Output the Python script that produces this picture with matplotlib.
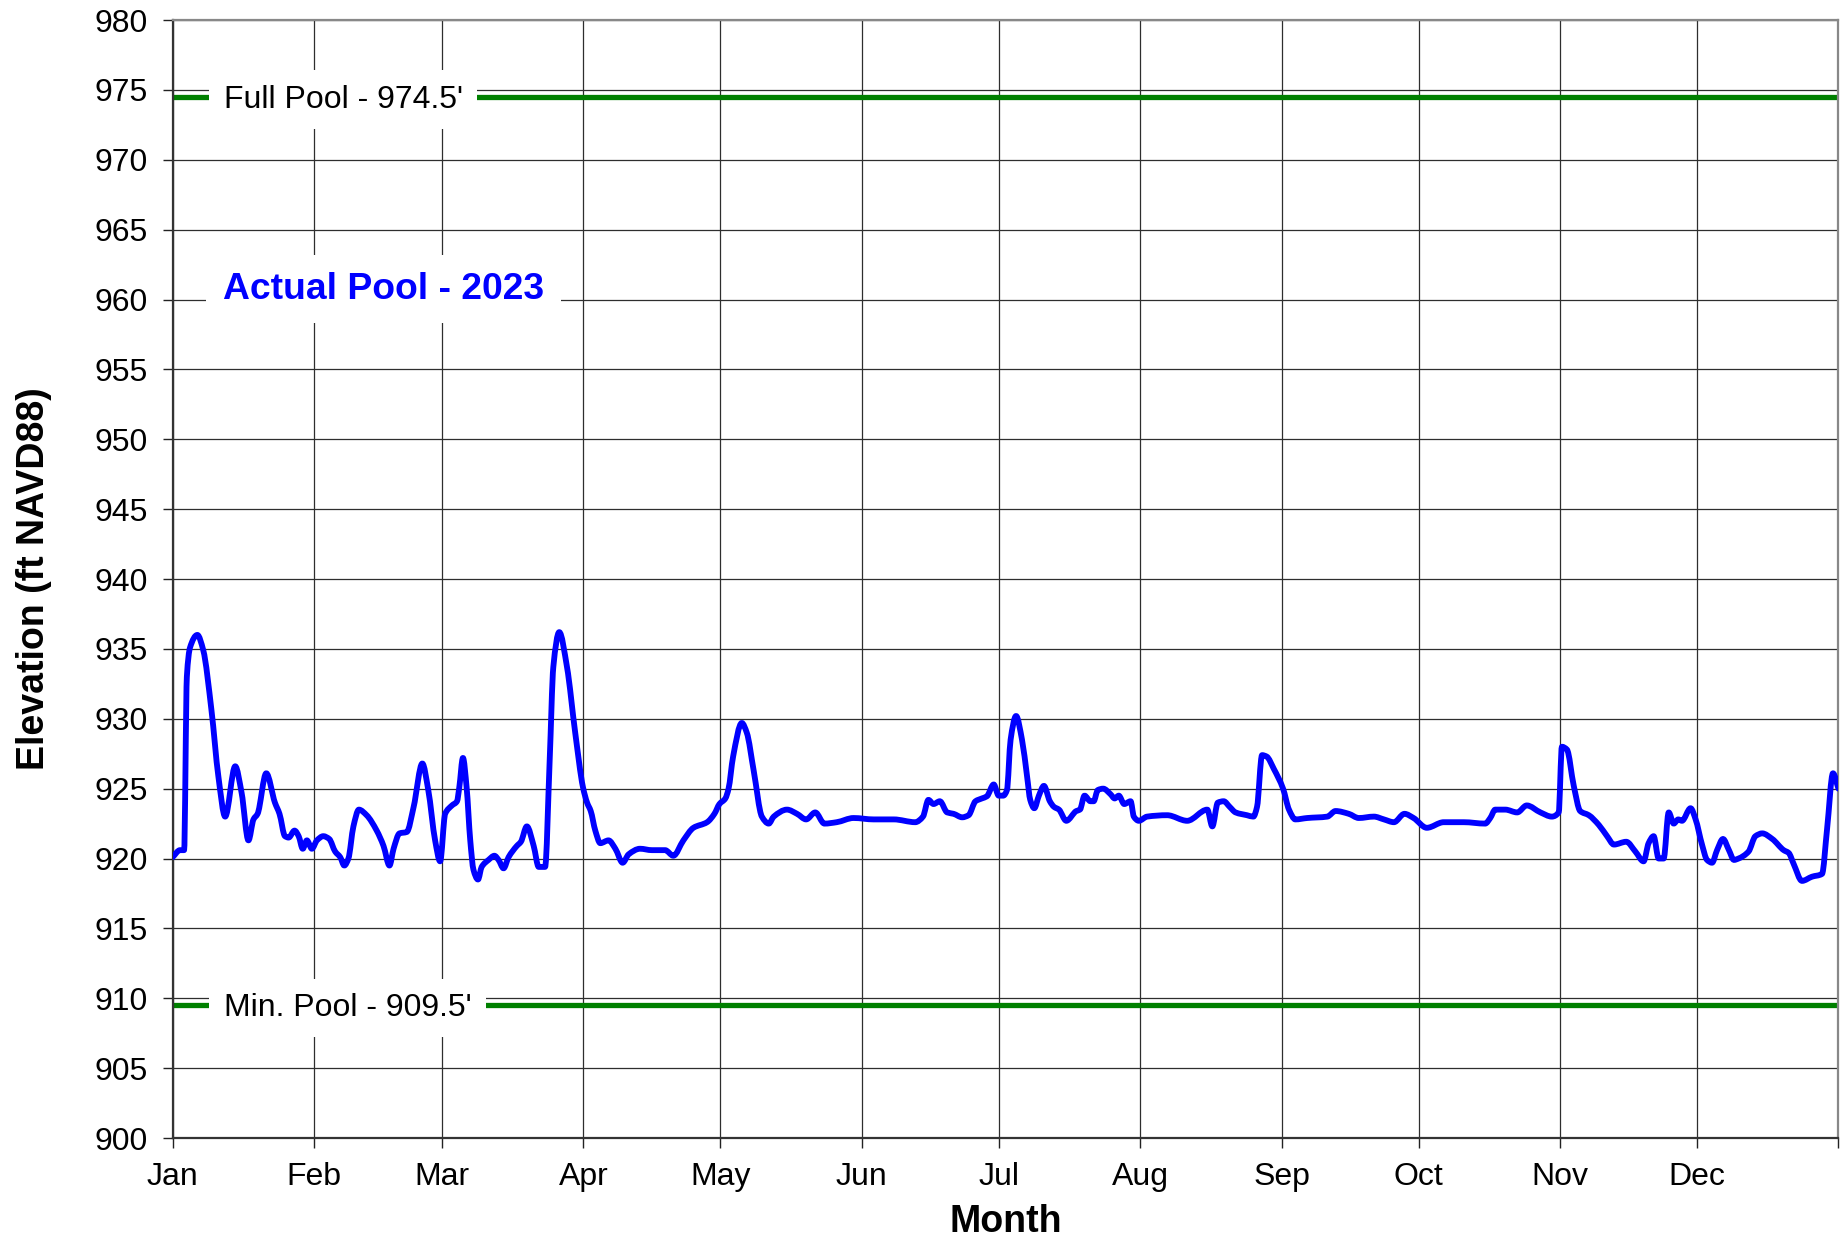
import pandas as pd
import numpy as np
import matplotlib
matplotlib.use('Agg')
import matplotlib.pyplot as plt
from matplotlib.path import Path
from matplotlib.patches import PathPatch

plt.rcParams['font.family'] = ['Liberation Sans', 'DejaVu Sans']

# Daily pool elevation 2023 (day of year, ft NAVD88)
day = [0.0, 1.6, 2.5, 3.1, 3.8, 5.4, 6.7, 8.5, 10.0, 11.5, 13.7, 15.1, 16.6, 17.7, 18.6,
       20.5, 22.4, 23.4, 24.6, 25.4, 26.7, 27.6, 28.5, 29.4, 30.5, 31.6, 33.0, 34.3, 35.6,
       36.7, 37.6, 38.5, 39.6, 40.8, 42.5, 44.7, 46.2, 47.5, 48.4, 49.7, 51.3, 52.8, 54.7,
       56.0, 57.5, 58.6, 59.7, 61.2, 62.3, 62.8, 63.6, 64.4, 65.2, 65.9, 66.9, 67.7, 69.2,
       70.5, 71.4, 72.5, 73.6, 75.4, 76.3, 77.6, 79.1, 80.2, 81.6, 82.6, 83.4, 84.7, 86.4,
       88.2, 89.9, 90.8, 91.6, 92.6, 93.7, 95.5, 97.0, 98.6, 99.9, 102.4, 105.0, 107.9,
       109.7, 111.9, 114.1, 117.1, 118.7, 119.8, 121.1, 121.8, 122.8, 124.7, 125.8, 127.3,
       129.1, 130.6, 131.7, 134.6, 136.8, 138.8, 140.8, 142.8, 145.5, 149.2, 153.6, 158.0,
       162.7, 164.4, 165.6, 166.7, 168.1, 169.7, 171.1, 173.0, 174.4, 175.9, 177.3, 178.4,
       179.9, 181.0, 182.0, 182.8, 183.6, 184.8, 186.1, 187.2, 187.9, 188.8, 189.8, 190.9,
       192.2, 193.1, 194.2, 195.8, 198.0, 198.8, 199.8, 201.1, 201.8, 202.7, 203.9, 205.5,
       206.4, 207.3, 208.5, 209.9, 210.6, 211.7, 213.5, 217.9, 222.3, 226.7, 227.8, 229.0,
       230.3, 231.6, 232.9, 235.4, 236.8, 237.6, 238.7, 239.7, 241.3, 243.3, 244.6, 246.0,
       248.6, 253.0, 254.8, 257.7, 259.9, 263.2, 265.4, 267.6, 269.9, 271.9, 274.8, 278.5,
       282.9, 287.6, 288.7, 289.8, 292.0, 294.6, 296.7, 299.7, 302.2, 303.7, 304.4, 305.5,
       307.0, 308.4, 310.3, 312.5, 314.3, 315.8, 318.5, 320.5, 322.3, 323.4, 324.5, 325.6,
       326.7, 327.8, 328.9, 329.9, 330.7, 332.6, 333.7, 335.1, 336.2, 337.3, 338.4, 339.7,
       341.0, 342.1, 343.1, 345.3, 346.8, 348.3, 350.5, 353.0, 354.1, 355.2, 357.0, 359.2,
       361.4, 362.5, 363.8, 365.0]
elev = [920.1, 920.6, 920.6, 933.0, 935.1, 936.0, 934.9, 930.6, 925.9, 923.0, 926.6, 924.7,
        921.3, 922.8, 923.2, 926.1, 924.0, 923.2, 921.6, 921.5, 922.0, 921.6, 920.7, 921.3,
        920.7, 921.3, 921.6, 921.4, 920.5, 920.1, 919.5, 920.0, 922.3, 923.5, 923.1, 922.0,
        920.9, 919.5, 920.7, 921.8, 921.9, 923.7, 926.8, 924.9, 921.3, 919.8, 923.2, 923.8,
        924.1, 925.1, 927.2, 925.1, 921.3, 919.2, 918.5, 919.4, 919.9, 920.2, 919.9, 919.3,
        920.1, 920.9, 921.2, 922.3, 920.9, 919.4, 919.4, 927.0, 933.7, 936.2, 933.7, 929.0,
        925.1, 924.0, 923.4, 922.0, 921.1, 921.3, 920.7, 919.7, 920.3, 920.7, 920.6, 920.6,
        920.2, 921.3, 922.2, 922.6, 923.2, 923.9, 924.3, 925.0, 927.3, 929.7, 929.0, 926.3,
        923.0, 922.5, 923.0, 923.5, 923.2, 922.8, 923.3, 922.5, 922.6, 922.9, 922.8, 922.8,
        922.6, 923.0, 924.2, 923.9, 924.1, 923.3, 923.2, 922.95, 923.1, 924.1, 924.3, 924.45,
        925.3, 924.5, 924.5, 924.9, 928.5, 930.2, 928.5, 925.9, 924.2, 923.6, 924.5, 925.2,
        924.1, 923.7, 923.5, 922.7, 923.4, 923.5, 924.5, 924.1, 924.1, 924.9, 925.0, 924.6,
        924.3, 924.5, 923.9, 924.1, 923.0, 922.7, 923.0, 923.1, 922.7, 923.5, 922.3, 924.0,
        924.1, 923.7, 923.3, 923.1, 923.0, 923.7, 927.4, 927.3, 926.4, 925.0, 923.5, 922.8,
        922.9, 923.0, 923.4, 923.2, 922.9, 923.0, 922.8, 922.6, 923.2, 922.9, 922.2, 922.6,
        922.6, 922.5, 922.9, 923.5, 923.5, 923.3, 923.8, 923.3, 923.0, 923.3, 928.0, 927.8,
        925.2, 923.4, 923.1, 922.4, 921.6, 921.0, 921.2, 920.5, 919.8, 921.1, 921.6, 920.0,
        920.0, 923.3, 922.5, 922.8, 922.7, 923.6, 922.8, 921.0, 919.9, 919.7, 920.6, 921.4,
        920.6, 919.9, 920.0, 920.5, 921.6, 921.8, 921.4, 920.6, 920.4, 919.6, 918.4, 918.7,
        918.9, 922.1, 926.1, 925.0]

full_pool = 974.5
min_pool = 909.5
full_label = "Full Pool - 974.5'"
min_label = "Min. Pool - 909.5'"
series_label = 'Actual Pool - 2023'

month_starts = pd.date_range('2023-01-01', '2023-12-01', freq='MS')
month_days = (month_starts - pd.Timestamp('2023-01-01')).days
month_labels = month_starts.strftime('%b')


def smooth_path(xs, ys):
    # smoothed line like the spreadsheet's: cubic Bezier segments through the
    # data points, monotone tangents so it does not overshoot
    x = np.asarray(xs, float)
    y = np.asarray(ys, float)
    h = np.diff(x)
    d = np.diff(y) / h
    m = np.zeros_like(y)
    m[0], m[-1] = d[0], d[-1]
    for i in range(1, len(x) - 1):
        if d[i - 1] * d[i] > 0:
            w1 = 2 * h[i] + h[i - 1]
            w2 = h[i] + 2 * h[i - 1]
            m[i] = (w1 + w2) / (w1 / d[i - 1] + w2 / d[i])
    verts = [(x[0], y[0])]
    for i in range(len(h)):
        verts.append((x[i] + h[i] / 3, y[i] + m[i] * h[i] / 3))
        verts.append((x[i + 1] - h[i] / 3, y[i + 1] - m[i + 1] * h[i] / 3))
        verts.append((x[i + 1], y[i + 1]))
    codes = [Path.MOVETO] + [Path.CURVE4] * (len(verts) - 1)
    return Path(verts, codes)


fig = plt.figure(figsize=(18.49, 12.39), dpi=100)
ax = fig.add_axes([0.0934, 0.0815, 0.9009, 0.9023])

ax.grid(True, color='#2e2e2e', linewidth=0.9, zorder=1)
ax.set_axisbelow(True)

ax.axhline(full_pool, color='#008000', linewidth=3.8, zorder=2)
ax.axhline(min_pool, color='#008000', linewidth=3.8, zorder=2)

box = dict(boxstyle='square,pad=0.45', facecolor='white', edgecolor='none')
ax.text(11.2, full_pool - 0.2, full_label, fontsize=23, va='center', ha='left',
        bbox=box, zorder=3)
ax.text(11.2, min_pool - 0.2, min_label, fontsize=23, va='center', ha='left',
        bbox=box, zorder=3)
ax.text(11.0, 960.75, series_label, fontsize=26.8, fontweight='bold', color='#0000ff',
        va='center', ha='left', bbox=dict(boxstyle='square,pad=0.45', facecolor='white',
                                           edgecolor='none'), zorder=3)

line = PathPatch(smooth_path(day, elev), facecolor='none', edgecolor='#0000ff',
                 linewidth=4.2, joinstyle='round', capstyle='round', zorder=4)
ax.add_patch(line)

ax.set_xlim(0, 365)
ax.set_ylim(900, 980)
ax.set_yticks(np.arange(900, 981, 5))
ax.set_xticks(list(month_days) + [365])
ax.set_xticklabels(list(month_labels) + [''])

ax.set_xlabel('Month', fontsize=27, fontweight='bold')
ax.set_ylabel('Elevation (ft NAVD88)', fontsize=27, fontweight='bold')
ax.xaxis.set_label_coords(0.5, -0.059)
ax.yaxis.set_label_coords(-0.0725, 0.5)
ax.tick_params(axis='both', labelsize=23, direction='out', length=7, width=1,
               color='#222222')
ax.tick_params(axis='x', pad=10.5)
ax.tick_params(axis='y', pad=11)

for side in ['left', 'bottom']:
    ax.spines[side].set_color('#333333')
    ax.spines[side].set_linewidth(1.6)
for side in ['top', 'right']:
    ax.spines[side].set_color('#888888')
    ax.spines[side].set_linewidth(1.6)

fig.savefig('out.png', dpi=100)
